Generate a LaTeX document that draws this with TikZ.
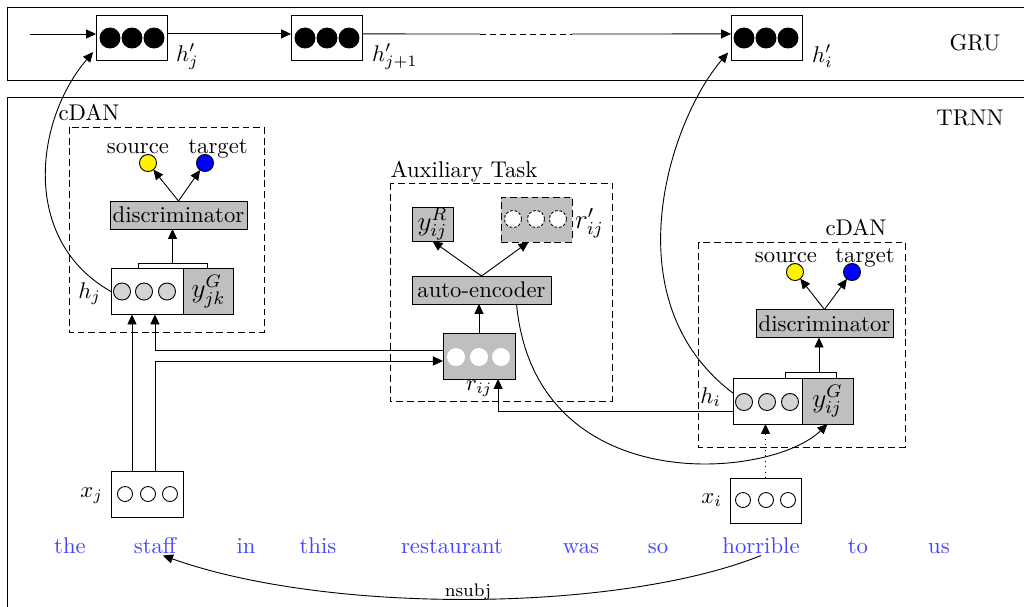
\documentclass[tikz,border=0pt]{standalone}
\usetikzlibrary{arrows.meta,calc}
\definecolor{boxgray}{gray}{0.75}
\definecolor{circgray}{gray}{0.83}
\definecolor{wordblue}{rgb}{0.27,0.27,1}
\begin{document}
\begin{tikzpicture}[x=0.44pt,y=-0.44pt,
  >={Triangle[length=4.4pt,width=4pt]},
  every node/.style={inner sep=0pt, outer sep=0pt},
  box/.style={draw, fill=white, minimum width=31.7pt, minimum height=20.2pt},
  hbox/.style={box, minimum width=31.2pt, minimum height=19.8pt},
  gbox/.style={box, fill=boxgray},
  bdot/.style={circle, draw, fill=black, minimum size=8.8pt},
  gcirc/.style={circle, draw, fill=circgray, minimum size=7.5pt},
  wcirc/.style={circle, draw, minimum size=6.6pt},
  rcirc/.style={circle, draw=white, fill=white, minimum size=7.5pt},
  rpcirc/.style={circle, draw, fill=white, dash pattern=on 1.2pt off 0.8pt, minimum size=7.5pt},
  proc/.style={draw, fill=boxgray, minimum height=12.3pt, inner xsep=1pt},
  dashbox/.style={draw, dash pattern=on 3pt off 1.7pt},
  dom/.style={circle, draw, minimum size=7.5pt},
  word/.style={text=wordblue, anchor=base},
  lab/.style={anchor=base}]
\useasboundingbox (0,0) rectangle (1024,606);
\clip (0,0) rectangle (1024,606);

% frames
\draw (1030,7) -- (7,7) -- (7,80) -- (1030,80);
\node[lab] (gru) at (975,50) {GRU};
\draw (1030,97) -- (7,97) -- (7,612);
\node[lab] (trnn) at (970,125) {TRNN};

% GRU row
\node[hbox] (hpj) at (131.5,38) {};
\node[hbox] (hpjj) at (326.5,38) {};
\node[hbox] (hpi) at (766.5,38) {};
\node[bdot] (hpja) at (110,38) {};
\node[bdot] (hpjb) at (132,38) {};
\node[bdot] (hpjc) at (154,38) {};
\node[bdot] (hpjja) at (305,38) {};
\node[bdot] (hpjjb) at (327,38) {};
\node[bdot] (hpjjc) at (349,38) {};
\node[bdot] (hpia) at (744,38) {};
\node[bdot] (hpib) at (766,38) {};
\node[bdot] (hpic) at (788,38) {};
\node[anchor=base west] (lhpj) at (176,61) {$h'_j$};
\node[anchor=base west] (lhpjj) at (372,61) {$h'_{j+1}$};
\node[anchor=base west] (lhpi) at (812,62) {$h'_i$};

\coordinate (gin) at (30,34);
\coordinate (ds) at (480,34);
\coordinate (de) at (572,34);
\draw[->] (gin) -- (gin -| hpj.west);
\draw[->] ([yshift=1.8pt]hpj.east) -- ([yshift=1.8pt]hpjj.west);
\draw ([yshift=1.8pt]hpjj.east) -- (ds);
\draw[dash pattern=on 2.6pt off 1.8pt] (ds) -- (de);
\draw[->] (de) -- ([yshift=1.8pt]hpi.west);

% left cDAN
\draw[dashbox] (69,127) rectangle (264,332);
\node[lab] (cdan1) at (89,120) {cDAN};
\node[lab] (src1t) at (138,153) {source};
\node[lab] (tgt1t) at (218,153) {target};
\node[dom, fill=yellow] (src1) at (148,163) {};
\node[dom, fill=blue] (tgt1) at (205,163) {};
\node[proc, minimum width=60.3pt] (disc1) at (178.5,215) {discriminator};
\draw[->] (disc1.north) -- (src1);
\draw[->] (disc1.north) -- (tgt1);
\node[box] (hj) at (147,291.5) {};
\node[gcirc] (hja) at (122,291.5) {};
\node[gcirc] (hjb) at (144,291.5) {};
\node[gcirc] (hjc) at (167,291.5) {};
\node[gbox, minimum width=22.4pt, anchor=west, font=\large] (ygjk) at (hj.east) {$y^G_{jk}$};
\coordinate (b1l) at (138,263);
\coordinate (b1r) at (207,263);
\coordinate (b1m) at (172.5,263);
\draw (b1l |- hj.north) -- (b1l) -- (b1r) -- (b1r |- hj.north);
\draw[->] (b1m) -- (b1m |- disc1.south);
\node[anchor=base east] (lhj) at (101,298) {$h_j$};

\node[box] (xj) at (147,494.5) {};
\node[wcirc] (xja) at (125,494) {};
\node[wcirc] (xjb) at (148,494) {};
\node[wcirc] (xjc) at (170,494) {};
\node[anchor=base east] (lxj) at (103,497) {$x_j$};

% auxiliary task
\draw[dashbox] (390,183) rectangle (612,401);
\node[lab] (auxt) at (464,177) {Auxiliary Task};
\node[gbox, minimum width=18pt, minimum height=15pt, font=\large] (yr) at (432.5,224) {$y^R_{ij}$};
\node[hbox, fill=boxgray, dash pattern=on 3pt off 1.7pt] (rp) at (536.5,219.5) {};
\node[rpcirc] (rpa) at (513,219) {};
\node[rpcirc] (rpb) at (536,219) {};
\node[rpcirc] (rpc) at (558,219) {};
\node[anchor=base west, font=\large] (lrp) at (575,228) {$r'_{ij}$};
\node[proc, minimum width=61.2pt] (ae) at (481.5,290) {auto-encoder};
\draw[->] (ae.north) -- (yr.south);
\draw[->] (ae.north) -- ([xshift=-3.5pt]rp.south);
\node[gbox] (rij) at (479,356) {};
\node[rcirc] (rija) at (456,357) {};
\node[rcirc] (rijb) at (479,357) {};
\node[rcirc] (rijc) at (501,357) {};
\node[anchor=base west] (lrij) at (466,390) {$r_{ij}$};
\draw[->] (rij.north) -- (rij.north |- ae.south);

% links between x_j, h_j and r_ij
\draw[->] ([xshift=-6.6pt]xj.north) -- ([xshift=-6.6pt]hj.south);
\draw[->] ([xshift=3.5pt]xj.north) |- ([yshift=-2.2pt]rij.west);
\draw[->] ([yshift=2.6pt]rij.west) -| ([xshift=3.5pt]hj.south);

% right cDAN
\draw[dashbox] (698,242) rectangle (905,447);
\node[lab] (cdan2) at (856,235) {cDAN};
\node[lab] (src2t) at (786,262) {source};
\node[lab] (tgt2t) at (865,262) {target};
\node[dom, fill=yellow] (src2) at (795,272) {};
\node[dom, fill=blue] (tgt2) at (852,272) {};
\node[proc, minimum width=60.3pt] (disc2) at (824.5,323.5) {discriminator};
\draw[->] (disc2.north) -- (src2);
\draw[->] (disc2.north) -- (tgt2);
\node[box, minimum width=30.4pt] (hi) at (767.5,401) {};
\node[gcirc] (hia) at (744,402) {};
\node[gcirc] (hib) at (767,402) {};
\node[gcirc] (hic) at (790,402) {};
\node[gbox, minimum width=22.4pt, anchor=west, font=\large] (ygij) at (hi.east) {$y^G_{ij}$};
\coordinate (b2l) at (785,372);
\coordinate (b2r) at (836,372);
\coordinate (b2m) at (819,372);
\draw (b2l |- hi.north) -- (b2l) -- (b2r) -- (b2r |- hi.north);
\draw[->] (b2m) -- (b2m |- disc2.south);
\node[anchor=base east] (lhi) at (721,403) {$h_i$};

\node[hbox] (xi) at (765.5,500.5) {};
\node[wcirc] (xia) at (743,500) {};
\node[wcirc] (xib) at (766,500) {};
\node[wcirc] (xic) at (788,500) {};
\node[anchor=base east] (lxi) at (722,503) {$x_i$};
\draw[->, dotted] (xi.north) -- (xi.north |- hi.south);
\draw[->] ([yshift=-4.4pt]hi.west) -| ([xshift=8.4pt]rij.south);

% curves
\draw[->] ([xshift=15.4pt]ae.south) .. controls (535,500) and (770,480) .. (ygij.south);
\draw[->] (hj.west) .. controls (20,240) and (35,120) .. ([shift={(-1.3pt,3.7pt)}]hpj.south west);
\draw[->] ([yshift=3.5pt]hi.west) .. controls (610,300) and (670,120) .. ([shift={(-1.3pt,3.5pt)}]hpi.south west);

% words
\node[word] (w1) at (70,553) {the};
\node[word] (w2) at (155,553) {staff};
\node[word] (w3) at (246,553) {in};
\node[word] (w4) at (318,553) {this};
\node[word] (w5) at (452,553) {restaurant};
\node[word] (w6) at (581,553) {was};
\node[word] (w7) at (658,553) {so};
\node[word] (w8) at (761,553) {horrible};
\node[word] (w9) at (858,553) {to};
\node[word] (w10) at (939,553) {us};
\draw[->] ([yshift=-1pt]w8.south) .. controls (620,612) and (330,615) .. ([xshift=3.5pt,yshift=-1pt]w2.south);
\node[anchor=base, font=\footnotesize] (nsubjl) at (468,596) {nsubj};
\end{tikzpicture}
\end{document}
